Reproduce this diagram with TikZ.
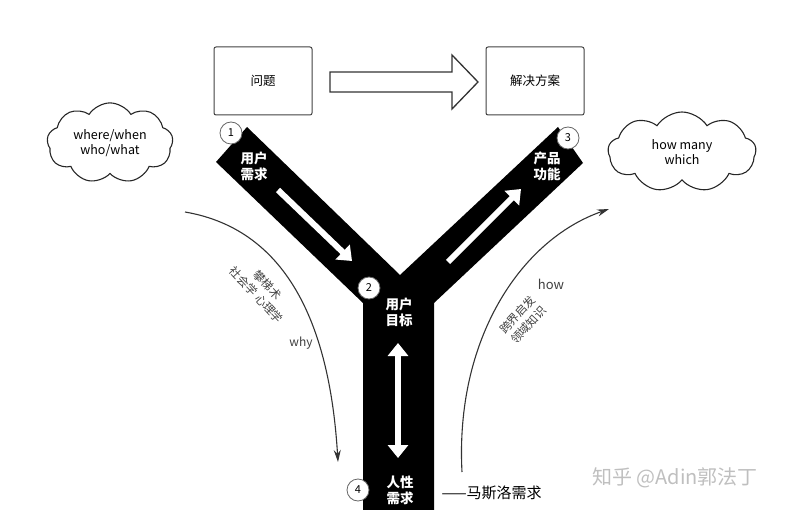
\documentclass[tikz,border=0pt]{standalone}
\usepackage{fontspec}
\setmainfont{Noto Sans CJK SC}
\usetikzlibrary{shapes.symbols,arrows.meta}
\tikzset{
  box/.style={draw=black!75, line width=1pt, rounded corners=2pt, minimum width=98pt, minimum height=68pt, font=\fontsize{12.5}{14}\selectfont},
  num/.style={circle, draw=black!60, fill=white, line width=0.8pt, minimum size=22pt, inner sep=0pt, font=\fontsize{11}{11}\selectfont},
  lbl/.style={text=white, align=center, font=\bfseries\fontsize{13.5}{16}\selectfont},
  bubble/.style={cloud, cloud puffs=9, cloud puff arc=115, draw=black!85, line width=1.1pt, aspect=1.8, align=center, font=\fontsize{12.5}{15}\selectfont},
  warrow/.style={white, line width=6pt, -{Triangle[width=20pt,length=13pt]}},
  curv/.style={black!80, line width=1.1pt, -{Stealth[width=7pt,length=12pt]}},
  side/.style={text=black!75, align=center, font=\fontsize{12}{15}\selectfont}
}
\begin{document}
\begin{tikzpicture}[x=1pt,y=-1pt]
\useasboundingbox (0,0) rectangle (792,510);
\clip (0,0) rectangle (792,510);
% top row
\node[box] (wt) at (263,81) {问题};
\node[box] (fa) at (535,81) {解决方案};
\draw[black!80, line width=1.3pt, fill=white] (330,72)--(452,72)--(452,55)--(478,82)--(452,109)--(452,92)--(330,92)--cycle;
% the Y
\fill[black] (216,162)--(247,127)--(400,275)--(558,127)--(583,163)--(434,303)--(434,515)--(363,515)--(363,303)--cycle;
\node[lbl] (xq) at (254,166) {用户\\需求};
\node[lbl] (gn) at (547,166) {产品\\功能};
\node[lbl] (mb) at (399,312) {用户\\目标};
\node[lbl] (rx) at (400,490) {人性\\需求};
\coordinate (a1) at (278,190); \coordinate (a2) at (352,261);
\coordinate (b1) at (448,262); \coordinate (b2) at (521,189);
\draw[warrow] (a1)--(a2);
\draw[warrow] (b1)--(b2);
\draw[white, line width=6pt, {Triangle[width=20pt,length=13pt]}-{Triangle[width=20pt,length=13pt]}] (398,343)--(398,458);
\node[num] (n1) at (231,133) {1};
\node[num] (n2) at (369,288) {2};
\node[num] (n3) at (568,138) {3};
\node[num] (n4) at (358,490) {4};
% clouds
\node[bubble, minimum width=126pt, minimum height=80pt] (cl) at (110,143) {where/when\\who/what};
\node[bubble, minimum width=148pt, minimum height=80pt] (cr) at (682,152) {how many\\which};
% curves
\coordinate (l1) at (185,212); \coordinate (l2) at (338,462);
\coordinate (r1) at (462,472); \coordinate (r2) at (609,209);
\draw[curv] (l1) .. controls (290,230) and (330,330) .. (l2);
\draw[curv] (r1) .. controls (455,340) and (520,240) .. (r2);
\node[side, rotate=-47, font=\fontsize{11.5}{15}\selectfont] (sx) at (262,290) {攀梯术\\社会学 心理学};
\node[side] (why) at (301,343) {why};
\node[side, font=\fontsize{13}{15}\selectfont] (how) at (551,284) {how};
\node[side, rotate=47, font=\fontsize{11.5}{15}\selectfont] (kj) at (523,320) {跨界启发\\领域知识};
\node[anchor=west, font=\fontsize{15}{17}\selectfont] (msl) at (438,493) {——马斯洛需求};
\node[text=black!25, font=\fontsize{20}{22}\selectfont] (wm) at (675,478) {知乎 @Adin郭法丁};
\end{tikzpicture}
\end{document}
